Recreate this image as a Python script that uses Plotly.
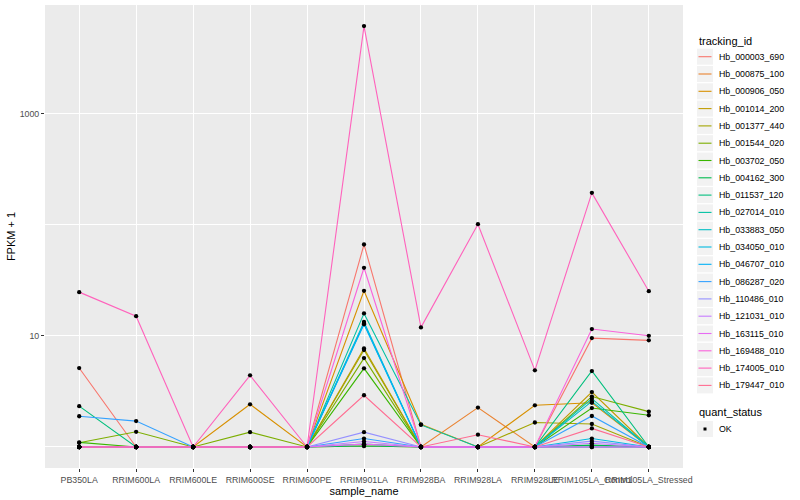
import plotly.graph_objects as go

samples = ["PB350LA", "RRIM600LA", "RRIM600LE", "RRIM600SE", "RRIM600PE",
           "RRIM901LA", "RRIM928BA", "RRIM928LA", "RRIM928LE",
           "RRIM105LA_Control", "RRIM105LA_Stressed"]

tracking_ids = ["Hb_000003_690", "Hb_000875_100", "Hb_000906_050", "Hb_001014_200",
                "Hb_001377_440", "Hb_001544_020", "Hb_003702_050", "Hb_004162_300",
                "Hb_011537_120", "Hb_027014_010", "Hb_033883_050", "Hb_034050_010",
                "Hb_046707_010", "Hb_086287_020", "Hb_110486_010", "Hb_121031_010",
                "Hb_163115_010", "Hb_169488_010", "Hb_174005_010", "Hb_179447_010"]

colors = ["#F8766D", "#EA8331", "#D89000", "#C09B00", "#A3A500", "#7CAE00",
          "#39B600", "#00BB4E", "#00BF7D", "#00C1A3", "#00BFC4", "#00BAE0",
          "#00B0F6", "#35A2FF", "#9590FF", "#C77CFF", "#E76BF3", "#FA62DB",
          "#FF62BC", "#FF6C91"]

# FPKM + 1 per sample (order of `samples`)
hb_000003_690 = [5.13, 1, 1, 1, 1, 66.2, 1, 1, 1, 9.53, 9.1]
hb_000875_100 = [1, 1, 1, 1, 1, 1.02, 1, 2.26, 1, 1, 1]
hb_000906_050 = [1, 1, 1, 2.42, 1, 25.4, 1.6, 1, 2.37, 2.5, 1]
hb_001014_200 = [1, 1, 1, 1, 1, 7.7, 1, 1, 1, 3.12, 1]
hb_001377_440 = [1, 1, 1, 1, 1, 7.45, 1, 1, 1.66, 1.61, 1]
hb_001544_020 = [1.09, 1.37, 1, 1.36, 1, 6.3, 1, 1, 1, 2.84, 2.08]
hb_003702_050 = [1.1, 1, 1, 1, 1, 5.1, 1, 1, 1, 2.24, 1.93]
hb_004162_300 = [1, 1, 1, 1, 1, 1.02, 1, 1, 1, 1.04, 1]
hb_011537_120 = [2.33, 1, 1, 1, 1, 1.06, 1, 1, 1, 4.82, 1]
hb_027014_010 = [1, 1, 1, 1, 1, 15.9, 1.58, 1, 1, 2.72, 1]
hb_033883_050 = [1, 1, 1, 1, 1, 13.3, 1, 1, 1, 2.57, 1]
hb_034050_010 = [1, 1, 1, 1, 1, 12.9, 1, 1, 1, 1.19, 1]
hb_046707_010 = [1, 1, 1, 1, 1, 12.7, 1, 1, 1, 1, 1]
hb_086287_020 = [1.89, 1.71, 1, 1, 1, 1.19, 1, 1, 1, 1.9, 1]
hb_110486_010 = [1, 1, 1, 1, 1, 1.36, 1, 1, 1, 1.13, 1]
hb_121031_010 = [1, 1, 1, 1, 1, 1.12, 1, 1, 1, 1.08, 1]
hb_163115_010 = [1, 1, 1, 1, 1, 1.06, 1, 1, 1, 1, 1]
hb_169488_010 = [1, 1, 1, 1, 1, 40.9, 1, 1, 1, 11.5, 10.0]
hb_174005_010 = [24.7, 15.0, 1, 4.41, 1, 6100, 11.9, 100.8, 4.89, 193, 25.2]
hb_179447_010 = [1, 1, 1, 1, 1, 2.92, 1, 1.29, 1, 1.47, 1]

series = [hb_000003_690, hb_000875_100, hb_000906_050, hb_001014_200, hb_001377_440,
          hb_001544_020, hb_003702_050, hb_004162_300, hb_011537_120, hb_027014_010,
          hb_033883_050, hb_034050_010, hb_046707_010, hb_086287_020, hb_110486_010,
          hb_121031_010, hb_163115_010, hb_169488_010, hb_174005_010, hb_179447_010]

quant_status = ["OK"]
y_ticks = [10, 1000]
y_minor = [1, 100]

FONT = "Liberation Sans, Arial, sans-serif"
W, H = 800, 500
ML, MR, MT, MB = 45, 117, 5, 32
PW, PH = W - ML - MR, H - MT - MB


def px(xpix):
    return (xpix - ML) / PW


def py(ypix):
    return (H - MB - ypix) / PH


fig = go.Figure()
for name, vals, col in zip(tracking_ids, series, colors):
    fig.add_trace(go.Scatter(
        x=samples, y=vals, mode="lines", name=name,
        line=dict(color=col, width=1.1), showlegend=False,
    ))

all_x, all_y = [], []
for vals in series:
    all_x += samples
    all_y += vals
fig.add_trace(go.Scatter(
    x=all_x, y=all_y, mode="markers", name=quant_status[0],
    marker=dict(color="black", size=4.3, symbol="circle"),
    showlegend=False,
))

# ---- ggplot-style legend (layout decoration) ----
shapes, annots = [], []
KEY_L, KEY_R, TXT_X = 697, 713, 717
annots.append(dict(text="tracking_id", x=px(KEY_L), y=py(40.7), xref="paper", yref="paper",
                   xanchor="left", yanchor="middle", showarrow=False,
                   font=dict(size=11, color="black")))
STEP = 17.3
for i, (name, col) in enumerate(zip(tracking_ids, colors)):
    yc = 56.7 + i * STEP
    shapes.append(dict(type="rect", xref="paper", yref="paper",
                       x0=px(KEY_L), x1=px(KEY_R), y0=py(yc + 8), y1=py(yc - 8),
                       fillcolor="#F2F2F2", line=dict(width=0), layer="above"))
    shapes.append(dict(type="line", xref="paper", yref="paper",
                       x0=px(KEY_L + 1.5), x1=px(KEY_R - 1.5), y0=py(yc), y1=py(yc),
                       line=dict(color=col, width=1.1), layer="above"))
    annots.append(dict(text=name, x=px(TXT_X), y=py(yc), xref="paper", yref="paper",
                       xanchor="left", yanchor="middle", showarrow=False,
                       font=dict(size=8.8, color="black")))

annots.append(dict(text="quant_status", x=px(KEY_L), y=py(412.3), xref="paper", yref="paper",
                   xanchor="left", yanchor="middle", showarrow=False,
                   font=dict(size=11, color="black")))
yc = 429
shapes.append(dict(type="rect", xref="paper", yref="paper",
                   x0=px(KEY_L), x1=px(KEY_R), y0=py(yc + 8), y1=py(yc - 8),
                   fillcolor="#F2F2F2", line=dict(width=0), layer="above"))
shapes.append(dict(type="rect", xref="paper", yref="paper",
                   x0=px(703.5), x1=px(706.5), y0=py(yc + 1.5), y1=py(yc - 1.5),
                   fillcolor="black", line=dict(width=0), layer="above"))
annots.append(dict(text=quant_status[0], x=px(TXT_X), y=py(yc), xref="paper", yref="paper",
                   xanchor="left", yanchor="middle", showarrow=False,
                   font=dict(size=8.8, color="black")))

fig.update_layout(
    width=W, height=H,
    margin=dict(l=ML, r=MR, t=MT, b=MB),
    paper_bgcolor="white", plot_bgcolor="#EBEBEB",
    font=dict(family=FONT, color="black"),
    showlegend=False,
    shapes=shapes, annotations=annots,
)

fig.update_xaxes(
    type="category", categoryorder="array", categoryarray=samples,
    range=[-0.6, len(samples) - 0.4],
    showgrid=True, gridcolor="white", gridwidth=1.1,
    ticks="outside", ticklen=3, tickcolor="#333333", tickwidth=1,
    tickangle=0, tickfont=dict(size=8.8, color="#4D4D4D"),
    title=dict(text="sample_name", font=dict(size=11, color="black"), standoff=2),
    zeroline=False, showline=False, automargin=False,
)

fig.update_yaxes(
    type="log", range=[-0.189, 3.975],
    tickmode="array", tickvals=y_ticks, ticktext=[str(v) for v in y_ticks],
    showgrid=True, gridcolor="white", gridwidth=1.1,
    ticks="outside", ticklen=3, tickcolor="#333333", tickwidth=1,
    tickfont=dict(size=8.8, color="#4D4D4D"),
    minor=dict(tickmode="array", tickvals=y_minor, showgrid=True,
               gridcolor="white", gridwidth=0.55, ticklen=0),
    title=dict(text="FPKM + 1", font=dict(size=11, color="black"), standoff=1),
    zeroline=False, showline=False, automargin=False,
)

fig.write_html("out.html", config={"displayModeBar": False},
               post_script="document.body.style.margin='0';")
